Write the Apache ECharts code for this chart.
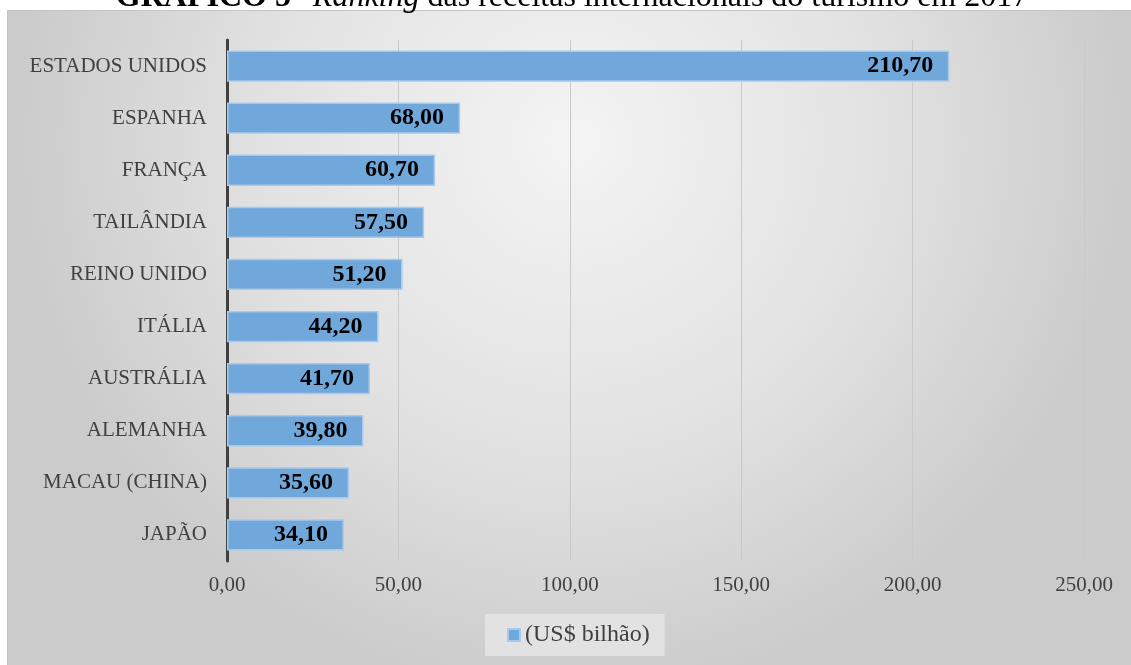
<!DOCTYPE html>
<html>
<head>
<meta charset="utf-8">
<script src="https://cdn.jsdelivr.net/npm/echarts@6/dist/echarts.min.js"></script>
<style>
  html, body { margin: 0; padding: 0; background: #ffffff; }
  #chart { width: 1131px; height: 665px; }
</style>
</head>
<body>
<div id="chart"></div>
<script>
// Receitas internacionais do turismo, 2017 (US$ bilhão)
const countries = [
  'ESTADOS UNIDOS', 'ESPANHA', 'FRANÇA', 'TAILÂNDIA', 'REINO UNIDO',
  'ITÁLIA', 'AUSTRÁLIA', 'ALEMANHA', 'MACAU (CHINA)', 'JAPÃO'
];
const receitas = [210.70, 68.00, 60.70, 57.50, 51.20, 44.20, 41.70, 39.80, 35.60, 34.10];
const seriesName = '(US$ bilhão)';
const axisMin = 0;
const axisMax = 250;
const axisStep = 50;

const serif = 'Liberation Serif';
const fmt = v => v.toFixed(2).replace('.', ',');

const chart = echarts.init(document.getElementById('chart'), null, { renderer: 'canvas' });

chart.setOption({
  backgroundColor: '#ffffff',
  animation: false,
  graphic: [
    {
      // panel background with a soft radial shading
      type: 'rect',
      z: -10,
      shape: { x: 7.5, y: 10.5, width: 1130, height: 660 },
      style: {
        fill: new echarts.graphic.RadialGradient(0.5, 0.2, 0.85, [
          { offset: 0, color: '#f4f4f4' },
          { offset: 0.55, color: '#e2e2e2' },
          { offset: 1, color: '#cbcbcb' }
        ]),
        stroke: '#c4c4c4',
        lineWidth: 1
      }
    },
    {
      // heading placed above the panel edge
      type: 'text',
      z: 10,
      style: {
        x: 572,
        y: -2,
        align: 'center',
        verticalAlign: 'middle',
        text: '{b|GRÁFICO 5} {n|- }{i|Ranking}{n| das receitas internacionais do turismo em 2017}',
        rich: {
          b: { fontFamily: serif, fontSize: 32, fontWeight: 'bold', fill: '#000' },
          n: { fontFamily: serif, fontSize: 32, fill: '#000' },
          i: { fontFamily: serif, fontSize: 32, fontStyle: 'italic', fill: '#000' }
        }
      }
    }
  ],
  legend: {
    left: 485,
    top: 614,
    backgroundColor: '#e2e2e2',
    padding: [9, 15, 9, 22],
    icon: 'rect',
    itemWidth: 12,
    itemHeight: 12,
    itemGap: 4,
    textStyle: { fontFamily: serif, fontSize: 24, color: '#404040' },
    data: [seriesName]
  },
  grid: { left: 227, right: 47, top: 40, bottom: 104 },
  xAxis: {
    type: 'value',
    min: axisMin,
    max: axisMax,
    interval: axisStep,
    axisLine: { show: false },
    axisTick: { show: false },
    splitLine: { show: true, lineStyle: { color: '#c9c9c9', width: 1 } },
    axisLabel: {
      margin: 14,
      fontFamily: serif,
      fontSize: 21,
      color: '#404040',
      formatter: v => fmt(v)
    }
  },
  yAxis: {
    type: 'category',
    inverse: true,
    data: countries,
    axisLine: { show: true, lineStyle: { color: '#404040', width: 3 } },
    axisTick: { show: false },
    axisLabel: { margin: 20, fontFamily: serif, fontSize: 21, color: '#404040' }
  },
  series: [
    {
      name: seriesName,
      type: 'bar',
      data: receitas,
      barCategoryGap: '40%',
      itemStyle: { color: '#70a8dc', borderColor: '#a8c9ea', borderWidth: 1.5 },
      label: {
        show: true,
        position: 'insideRight',
        distance: 16,
        fontFamily: serif,
        fontSize: 24,
        fontWeight: 'bold',
        color: '#000000',
        formatter: p => fmt(p.value)
      }
    }
  ]
});
</script>
</body>
</html>
